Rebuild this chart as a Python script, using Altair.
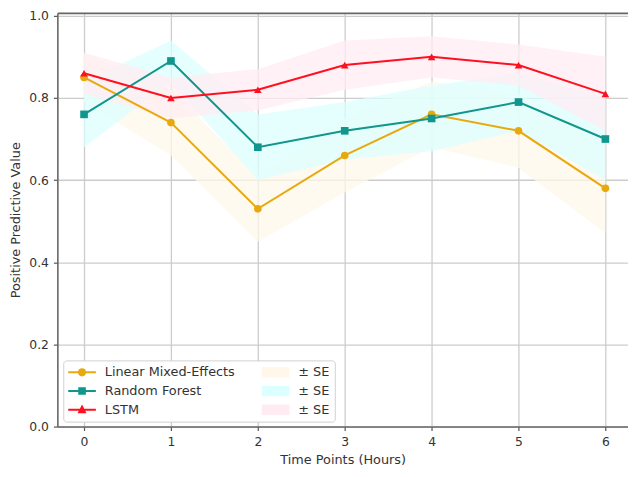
import math
import altair as alt
import pandas as pd

# ---- data ----
hours = [0, 1, 2, 3, 4, 5, 6]
series_names = ["Linear Mixed-Effects", "Random Forest", "LSTM"]
lme = [0.85, 0.74, 0.53, 0.66, 0.76, 0.72, 0.58]
rf = [0.76, 0.89, 0.68, 0.72, 0.75, 0.79, 0.70]
lstm = [0.86, 0.80, 0.82, 0.88, 0.90, 0.88, 0.81]
lme_se = [0.06, 0.08, 0.08, 0.09, 0.08, 0.09, 0.11]
rf_se = [0.08, 0.05, 0.08, 0.07, 0.08, 0.07, 0.10]
lstm_se = [0.05, 0.05, 0.05, 0.06, 0.05, 0.05, 0.09]
y_ticks = [0.0, 0.2, 0.4, 0.6, 0.8, 1.0]
band_suffix = " ± SE"

line_colors = ["#E8A90E", "#10968C", "#FF0F1F"]
band_colors = ["#FFF8EA", "#DCFFFF", "#FFECF2"]
marker_shapes = ["circle", "square", "triangle-up"]

# ---- build tables ----
rows = []
for name, vals, ses in zip(series_names, [lme, rf, lstm], [lme_se, rf_se, lstm_se]):
    for h, v, s in zip(hours, vals, ses):
        rows.append({"hour": h, "value": v, "lo": v - s, "hi": v + s, "series": name})
df = pd.DataFrame(rows)

band_keys = [n + band_suffix for n in series_names]
keys = series_names + band_keys          # legend fills column by column
key_colors = line_colors + band_colors


# legend symbol paths (unit square coordinates, scaled by sqrt(size)/2)
def poly(pts):
    return "M" + " L".join(f"{x:.3f},{y:.3f}" for x, y in pts) + " Z"


line_bar = poly([(-1, -0.14), (3, -0.14), (3, 0.14), (-1, 0.14)])
circle = poly([(1 + 0.6 * math.cos(2 * math.pi * k / 16), 0.6 * math.sin(2 * math.pi * k / 16))
               for k in range(16)])
square = poly([(0.45, -0.55), (1.55, -0.55), (1.55, 0.55), (0.45, 0.55)])
triangle = poly([(1, -0.75), (1.65, 0.5), (0.35, 0.5)])
swatch = poly([(-1, -0.75), (3, -0.75), (3, 0.75), (-1, 0.75)])
key_shapes = [line_bar + " " + circle, line_bar + " " + square, line_bar + " " + triangle,
              swatch, swatch, swatch]

x_scale = alt.Scale(domain=[-0.307, 6.26], nice=False, zero=False)
y_scale = alt.Scale(domain=[0, 1.007], nice=False)

x_axis = alt.Axis(values=hours, title="Time Points (Hours)", labelAngle=0, format="d",
                  tickSize=4, labelPadding=5, titlePadding=6, grid=True)
y_axis = alt.Axis(values=y_ticks, format=".1f", title="Positive Predictive Value",
                  tickSize=4, labelPadding=5, titlePadding=6, grid=True)

base = alt.Chart(df)

band_layers, line_layers, marker_layers = [], [], []
for i, (name, lc, bc, shp) in enumerate(zip(series_names, line_colors, band_colors, marker_shapes)):
    sub = base.transform_filter(alt.datum.series == name)
    first = i == 0
    band_layers.append(sub.mark_area(opacity=0.75, color=bc, interpolate="linear").encode(
        x=alt.X("hour:Q", scale=x_scale, axis=x_axis if first else None),
        y=alt.Y("lo:Q", scale=y_scale, axis=y_axis if first else None),
        y2="hi:Q",
    ))
    line_layers.append(sub.mark_line(strokeWidth=2, color=lc).encode(
        x=alt.X("hour:Q", scale=x_scale, axis=None),
        y=alt.Y("value:Q", scale=y_scale, axis=None),
    ))
    marker_layers.append(sub.mark_point(filled=True, opacity=1, size=60, shape=shp, color=lc).encode(
        x=alt.X("hour:Q", scale=x_scale, axis=None),
        y=alt.Y("value:Q", scale=y_scale, axis=None),
    ))

top_frame = base.mark_line(opacity=0).encode(
    x=alt.X("hour:Q", scale=x_scale,
            axis=alt.Axis(orient="top", labels=False, ticks=False, grid=False, title=None)),
    y=alt.Y("value:Q", scale=y_scale, axis=None),
)

legend_props = dict(
    title=None, orient="none", legendX=6, legendY=352, columns=2,
    symbolSize=196, symbolStrokeWidth=0, labelOffset=23, rowPadding=5,
    columnPadding=27, padding=5, strokeColor="#d0d0d0", fillColor="white",
    cornerRadius=3, labelFontSize=13, labelColor="#333333", labelFont="DejaVu Sans",
    labelExpr="indexof(datum.label, 'SE') >= 0 ? '± SE' : datum.label",
)

legend_df = pd.DataFrame({"key": keys})
legend_driver = alt.Chart(legend_df).mark_point(filled=True, opacity=1).encode(
    color=alt.Color("key:N", scale=alt.Scale(domain=keys, range=key_colors),
                    legend=alt.Legend(**legend_props)),
    shape=alt.Shape("key:N", scale=alt.Scale(domain=keys, range=key_shapes),
                    legend=alt.Legend(**legend_props)),
).transform_filter("false")

chart = alt.layer(*band_layers, *line_layers, *marker_layers, top_frame, legend_driver).resolve_axis(
    x="independent", y="independent"
).properties(
    width=578, height=419, autosize="none",
    padding={"left": 50, "top": 2, "right": 0, "bottom": 40},
).configure_view(stroke=None).configure_axis(
    domainColor="#666666", domainWidth=1.6, tickColor="#555555", tickWidth=1.2,
    gridColor="#cccccc", gridWidth=1.3, labelFont="DejaVu Sans", labelFontSize=12.5,
    labelColor="#333333", titleFont="DejaVu Sans", titleFontSize=13,
    titleColor="#333333", titleFontWeight="normal",
)

chart.save("out.html", embed_options={"renderer": "svg", "actions": False})
